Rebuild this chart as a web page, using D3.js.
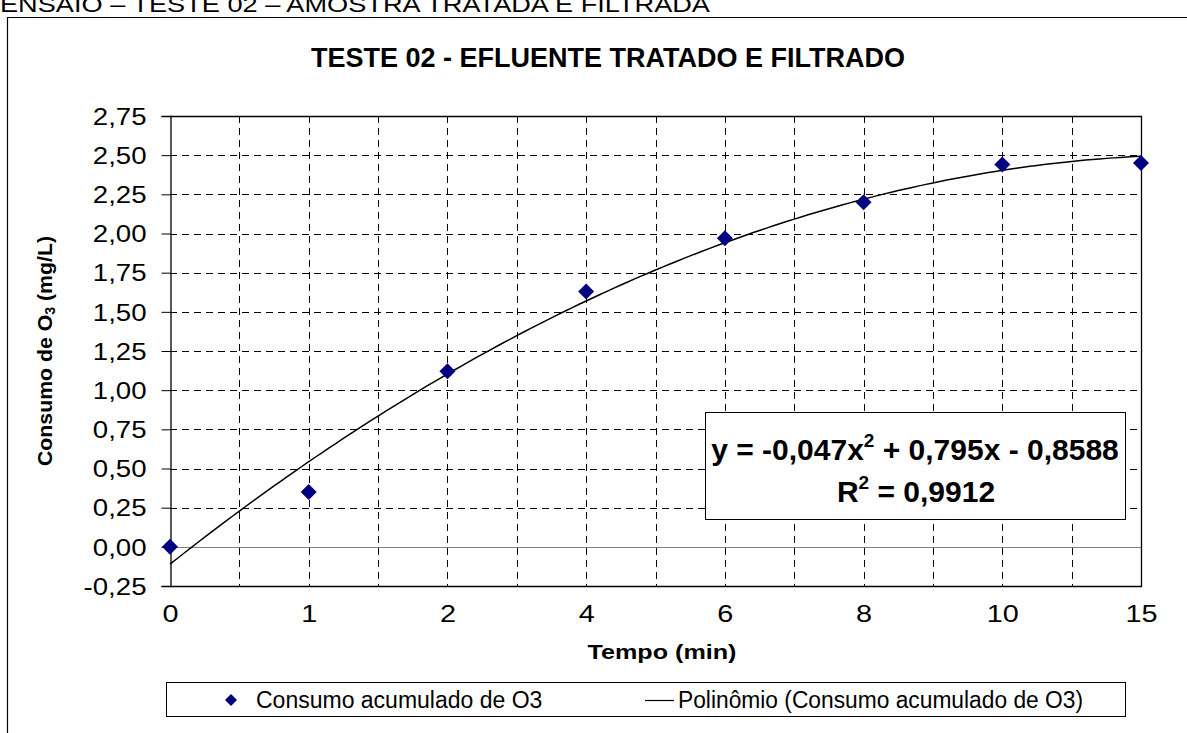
<!DOCTYPE html>
<html>
<head>
<meta charset="utf-8">
<script src="https://d3js.org/d3.v7.min.js"></script>
<style>
  body { margin: 0; background: #fff; }
  svg { display: block; font-family: "Liberation Sans", Arial, sans-serif; }
</style>
</head>
<body>
<div id="chart"></div>
<script>
// data
var categories = ["0", "1", "2", "4", "6", "8", "10", "15"];
var consumo = [0.00, 0.35, 1.12, 1.63, 1.97, 2.20, 2.44, 2.45];
var yTicks = [-0.25, 0, 0.25, 0.5, 0.75, 1, 1.25, 1.5, 1.75, 2, 2.25, 2.5, 2.75];
// polynomial trendline coefficients (x = category position 1..8)
var polyCoef = [-0.8588, 0.795, -0.047];
var eqLine1 = "y = -0,047x";
var eqLine1b = " + 0,795x - 0,8588";
var eqR2 = " = 0,9912";

var width = 1187, height = 733;
var plot = { left: 170, right: 1141, top: 116, bottom: 586 };

var svg = d3.select("#chart").append("svg")
    .attr("width", width).attr("height", height);

// stretch text horizontally (the original's fonts are drawn wider)
function fit(sel, w) {
    sel.attr("textLength", w).attr("lengthAdjust", "spacingAndGlyphs");
}
function widen(sel, k) {
    sel.each(function () {
        var len = this.getComputedTextLength();
        d3.select(this).attr("textLength", len * k).attr("lengthAdjust", "spacingAndGlyphs");
    });
}

// header text (cut off at top in the original)
svg.append("text").attr("x", 0).attr("y", 12)
    .style("font-size", "22px").text("ENSAIO – TESTE 02 – AMOSTRA TRATADA E FILTRADA")
    .call(fit, 710);

// chart area border (only top and left visible)
svg.append("path").attr("d", "M7.5," + height + " V17.5 H" + width)
    .attr("fill", "none").attr("stroke", "#000").attr("stroke-width", 1.2);

// title
svg.append("text").attr("x", 608).attr("y", 67).attr("text-anchor", "middle")
    .style("font-size", "27px").style("font-weight", "bold")
    .text("TESTE 02 - EFLUENTE TRATADO E FILTRADO");

var x = d3.scalePoint().domain(categories).range([plot.left, plot.right]);
var xPos = d3.scaleLinear().domain([1, categories.length]).range([plot.left, plot.right]);
var y = d3.scaleLinear().domain([-0.25, 2.75]).range([plot.bottom, plot.top]);

// horizontal dashed gridlines
svg.append("g").selectAll("line").data(yTicks.filter(function (d) { return d !== 0 && d !== -0.25 && d !== 2.75; }))
    .enter().append("line")
    .attr("x1", plot.left).attr("x2", plot.right)
    .attr("y1", function (d) { return Math.round(y(d)) + 0.5; })
    .attr("y2", function (d) { return Math.round(y(d)) + 0.5; })
    .attr("stroke", "#000").attr("stroke-dasharray", "7,5");

// vertical dashed gridlines at every half category
var half = [];
for (var i = 1; i < (categories.length - 1) * 2; i++) half.push(1 + i / 2);
svg.append("g").selectAll("line").data(half).enter().append("line")
    .attr("x1", function (d) { return Math.round(xPos(d)) + 0.5; })
    .attr("x2", function (d) { return Math.round(xPos(d)) + 0.5; })
    .attr("y1", plot.top).attr("y2", plot.bottom)
    .attr("stroke", "#000").attr("stroke-dasharray", "7,5");

// zero line
svg.append("line").attr("x1", plot.left).attr("x2", plot.right)
    .attr("y1", Math.round(y(0)) + 0.5).attr("y2", Math.round(y(0)) + 0.5)
    .attr("stroke", "#808080").attr("stroke-width", 1.2);

// plot border top / right / bottom
svg.append("path")
    .attr("d", "M" + plot.left + "," + (plot.top + 0.5) + " H" + (plot.right + 0.5) + " V" + (plot.bottom + 0.5) + " H" + plot.left)
    .attr("fill", "none").attr("stroke", "#000").attr("stroke-width", 1.3);

// y axis
var yAxis = svg.append("g").attr("transform", "translate(" + (plot.left + 0.5) + ",0)")
    .call(d3.axisLeft(y).tickValues(yTicks).tickSize(9).tickPadding(15)
        .tickFormat(function (d) { return d3.format(".2f")(d).replace(".", ",").replace("−", "-"); }));
yAxis.select(".domain").attr("stroke", "#000").attr("stroke-width", 1.3);
yAxis.selectAll(".tick line").attr("stroke", "#000");
yAxis.selectAll("text").style("font-size", "23px").attr("font-family", null)
    .attr("fill", "#000").attr("dy", "0.36em").call(widen, 1.2);

// x axis labels
var xAxis = svg.append("g").attr("transform", "translate(0," + plot.bottom + ")")
    .call(d3.axisBottom(x).tickSize(0).tickPadding(19));
xAxis.select(".domain").remove();
xAxis.selectAll("text").style("font-size", "24px").attr("font-family", null).attr("fill", "#000")
    .call(widen, 1.2);

// axis titles
svg.append("text").attr("x", 662).attr("y", 659).attr("text-anchor", "middle")
    .style("font-size", "21px").style("font-weight", "bold").text("Tempo (min)")
    .call(fit, 149);

var yt = svg.append("text").attr("transform", "translate(52," + ((plot.top + plot.bottom) / 2) + ") rotate(-90)")
    .attr("text-anchor", "middle").style("font-size", "21px").style("font-weight", "bold");
yt.append("tspan").text("Consumo de O");
yt.append("tspan").style("font-size", "14px").attr("dy", 3).text("3");
yt.append("tspan").attr("dy", -3).text(" (mg/L)");
yt.call(fit, 230);

// trendline
var curve = d3.range(1, categories.length + 0.001, 0.05).map(function (t) {
    return [t, polyCoef[0] + polyCoef[1] * t + polyCoef[2] * t * t];
});
svg.append("path").datum(curve)
    .attr("d", d3.line().x(function (d) { return xPos(d[0]); }).y(function (d) { return y(d[1]); }))
    .attr("fill", "none").attr("stroke", "#000").attr("stroke-width", 1.5);

// markers
var diamond = d3.symbol().type(d3.symbolSquare).size(128);
svg.append("g").selectAll("path").data(consumo).enter().append("path")
    .attr("d", diamond)
    .attr("transform", function (d, i) { return "translate(" + x(categories[i]) + "," + y(d) + ") rotate(45)"; })
    .attr("fill", "#000080");

// equation box
svg.append("rect").attr("x", 705.5).attr("y", 412.5).attr("width", 420).attr("height", 107)
    .attr("fill", "#fff").attr("stroke", "#000").attr("stroke-width", 1);
var eq = svg.append("text").attr("x", 915).attr("y", 460).attr("text-anchor", "middle")
    .style("font-size", "30px").style("font-weight", "bold");
eq.append("tspan").text(eqLine1);
eq.append("tspan").style("font-size", "19px").attr("dy", -13).text("2");
eq.append("tspan").attr("dy", 13).text(eqLine1b);
var r2 = svg.append("text").attr("x", 916).attr("y", 502).attr("text-anchor", "middle")
    .style("font-size", "30px").style("font-weight", "bold");
r2.append("tspan").text("R");
r2.append("tspan").style("font-size", "19px").attr("dy", -13).text("2");
r2.append("tspan").attr("dy", 13).text(eqR2);

// legend
svg.append("rect").attr("x", 166.5).attr("y", 682.5).attr("width", 959).attr("height", 34)
    .attr("fill", "#fff").attr("stroke", "#000").attr("stroke-width", 1);
svg.append("path").attr("d", d3.symbol().type(d3.symbolSquare).size(72))
    .attr("transform", "translate(231,700) rotate(45)").attr("fill", "#000080");
svg.append("text").attr("x", 256).attr("y", 708).style("font-size", "23px")
    .text("Consumo acumulado de O3");
svg.append("line").attr("x1", 645).attr("x2", 674).attr("y1", 700.5).attr("y2", 700.5)
    .attr("stroke", "#000").attr("stroke-width", 1.2);
svg.append("text").attr("x", 678).attr("y", 708).style("font-size", "23px")
    .text("Polinômio (Consumo acumulado de O3)").call(fit, 405);
</script>
</body>
</html>
